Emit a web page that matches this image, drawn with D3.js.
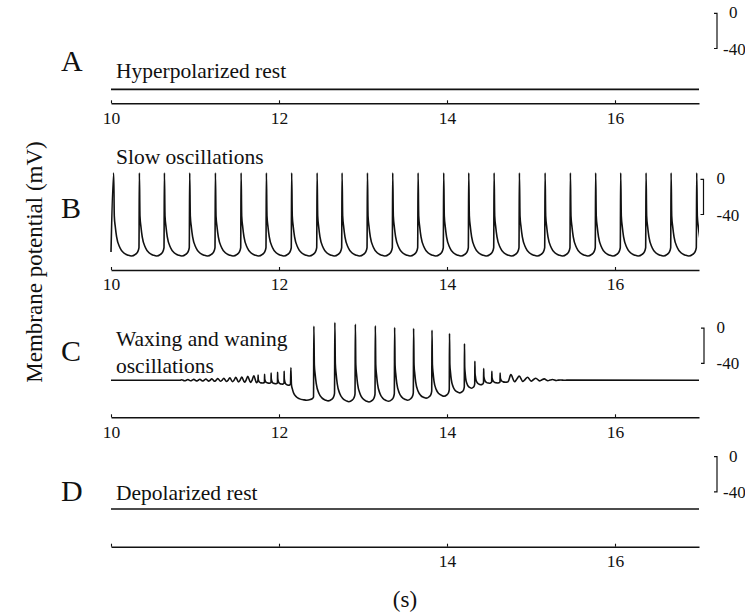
<!DOCTYPE html>
<html>
<head>
<meta charset="utf-8">
<script src="https://cdn.jsdelivr.net/npm/d3@7"></script>
<style>
  body { margin: 0; background: #fff; }
  text { font-family: "Liberation Serif", "Times New Roman", serif; fill: #111; }
</style>
</head>
<body>
<div id="chartDiv"></div>
<script>

// ---- data (time in s, potential in mV) ----
var timeRange = [10, 17];
var tickValues = [10, 12, 14, 16];
var tickLabels = ["10", "12", "14", "16"];
var tickLabelsD = ["", "", "14", "16"];
var scaleBarMv = [0, -40];

var panelNames = ["A", "B", "C", "D"];
var panelTexts = [["Hyperpolarized rest"], ["Slow oscillations"], ["Waxing and waning", "oscillations"], ["Depolarized rest"]];

var restA = -86.4;
var restD = -59.4;

// B: onset of each slow oscillation cycle
var spikeTimesB = [10.027, 10.333, 10.631, 10.932, 11.238, 11.544, 11.845, 12.146, 12.449, 12.746,
                   13.048, 13.349, 13.651, 13.956, 14.254, 14.556, 14.857, 15.163, 15.464, 15.765,
                   16.063, 16.365, 16.663, 16.968];
var peakB = 7.2, troughB = -87.2, startB = -82.5;

// C: waxing and waning cycles
var cycleTimesC = [10.821, 10.893, 10.964, 11.036, 11.107, 11.179, 11.250, 11.321, 11.393, 11.464,
                   11.536, 11.607, 11.679, 11.750, 11.827, 11.905, 11.982, 12.060, 12.137, 12.411,
                   12.661, 12.905, 13.143, 13.373, 13.599, 13.818, 14.027, 14.206, 14.330, 14.435,
                   14.532, 14.631, 14.730, 14.830, 14.929, 15.027, 15.127, 15.226, 15.325];
var cyclePeaksC = [-58.5, -58.3, -58.2, -58.0, -57.7, -57.5, -57.2, -56.8, -56.4, -55.9,
                   -55.5, -54.8, -54.0, -53.2, -52.3, -51.1, -50.0, -48.9, -44.9, 2.3,
                   6.3, 4.5, 2.6, 0.8, -0.3, -2.3, -6.0, -17.6, -37.5, -45.8,
                   -48.9, -51.1, -52.8, -54.5, -55.7, -56.8, -57.6, -58.3, -58.8];
var cycleTroughsC = [-59.7, -59.8, -59.9, -60.0, -60.1, -60.2, -60.3, -60.6, -60.8, -61.0,
                     -61.4, -61.6, -61.9, -62.3, -62.5, -63.1, -63.6, -64.8, -81.8, -82.6,
                     -83.5, -83.8, -83.0, -81.8, -79.5, -77.3, -73.5, -68.2, -64.2, -62.5,
                     -62.2, -61.4, -60.8, -60.5, -60.1, -59.9, -59.7, -59.4, -59.2];
var restC = -59.1;

var spikeShape = [[0.016, 1], [0.04, 0.48], [0.08, 0.35], [0.13, 0.23], [0.26, 0.10], [0.40, 0.04],
                  [0.58, 0.01], [0.70, 0], [0.86, 0.02], [0.95, 0.05], [1, 0.10]];
// small subthreshold wiggle
var waveShape = [[0.3, 1], [0.75, 0], [1, 0.35]];
var smallWaveMv = 9;

// ---- layout ----
var W = 745, H = 616;
var mvPx = 0.88;
var panels = [
  {zeroY: 13.3,  axisY: 103.3, letterY: 71,  textY: [78],         barX: 717,   zeroX: 729,   negX: 723,   labels: tickLabels},
  {zeroY: 179.3, axisY: 270,   letterY: 218, textY: [163.5],      barX: 703.5, zeroX: 716.5, negX: 716.5, labels: tickLabels},
  {zeroY: 328.2, axisY: 417.3, letterY: 361, textY: [346, 372.5], barX: 704,   zeroX: 716.5, negX: 716.5, labels: tickLabels},
  {zeroY: 456.7, axisY: 546.7, letterY: 501, textY: [500],        barX: 717,   zeroX: 729,   negX: 723,   labels: tickLabelsD}
];

var svg = d3.select("#chartDiv").append("svg")
    .attr("width", W)
    .attr("height", H);

var x_scale = d3.scaleLinear().domain(timeRange).range([111, 699]);

svg.append("clipPath").attr("id", "traceClip")
  .append("rect")
    .attr("x", x_scale(timeRange[0]) - 1).attr("y", 0)
    .attr("width", x_scale(timeRange[1]) - x_scale(timeRange[0]) + 1)
    .attr("height", H);

// lay a cycle shape over each onset time
function buildCycles(times, peaks, troughs, lastPeriod) {
  var pts = [];
  times.forEach(function(t0, i) {
    var t1 = i < times.length - 1 ? times[i + 1] : t0 + lastPeriod;
    var amp = peaks[i] - troughs[i];
    var shape = amp < smallWaveMv ? waveShape : spikeShape;
    shape.forEach(function(s) {
      pts.push([t0 + s[0] * (t1 - t0), troughs[i] + s[1] * amp]);
    });
  });
  return pts;
}

var traceA = [[timeRange[0], restA], [timeRange[1], restA]];

var traceB = [[timeRange[0], startB]].concat(
  buildCycles(spikeTimesB, spikeTimesB.map(function() { return peakB; }),
              spikeTimesB.map(function() { return troughB; }), 0.302));

var traceC = [[timeRange[0], restC], [cycleTimesC[0], restC]].concat(
  buildCycles(cycleTimesC, cyclePeaksC, cycleTroughsC, 0.099),
  [[timeRange[1], restC]]);

var traceD = [[timeRange[0], restD], [timeRange[1], restD]];

var traces = [traceA, traceB, traceC, traceD];

panels.forEach(function(p, i) {
  var y_scale = d3.scaleLinear().domain([0, -40]).range([p.zeroY, p.zeroY + 40 * mvPx]);
  var g = svg.append("g").attr("class", "panel");

  // panel letter
  g.append("text")
    .attr("x", 61).attr("y", p.letterY)
    .style("font-size", "30px")
    .text(panelNames[i]);

  // condition label
  panelTexts[i].forEach(function(s, k) {
    g.append("text")
      .attr("x", 116).attr("y", p.textY[k])
      .style("font-size", "21.5px")
      .text(s);
  });

  // trace
  var line = d3.line()
    .x(function(d) { return x_scale(d[0]); })
    .y(function(d) { return y_scale(d[1]); })
    .curve(d3.curveMonotoneX);

  g.append("path")
    .datum(traces[i])
    .attr("clip-path", "url(#traceClip)")
    .attr("d", line)
    .attr("fill", "none")
    .attr("stroke", "#111")
    .attr("stroke-width", 1.6)
    .attr("stroke-linejoin", "round");

  // time axis, ticks pointing up
  var xAxis = d3.axisBottom(x_scale)
    .tickValues(tickValues)
    .tickSizeInner(-3)
    .tickSizeOuter(0)
    .tickPadding(8)
    .tickFormat(function(d, k) { return p.labels[k]; });

  var ax = g.append("g")
    .attr("transform", "translate(0," + p.axisY + ")")
    .call(xAxis);
  ax.select(".domain").attr("stroke", "#111").attr("stroke-width", 1.4);
  ax.selectAll(".tick line").attr("stroke", "#111").attr("stroke-width", 1.1);
  ax.selectAll(".tick text")
    .attr("fill", "#111")
    .style("font-family", "'Liberation Serif', serif")
    .style("font-size", "17.5px");

  // 40 mV scale bar
  var y0 = y_scale(scaleBarMv[0]), y1 = y_scale(scaleBarMv[1]);
  g.append("path")
    .attr("d", "M" + (p.barX - 3) + "," + y0 + "H" + p.barX + "V" + y1 + "H" + (p.barX - 3))
    .attr("fill", "none")
    .attr("stroke", "#111")
    .attr("stroke-width", 1.2);
  g.append("text")
    .attr("x", p.zeroX).attr("y", y0 + 5)
    .style("font-size", "17px")
    .text(String(scaleBarMv[0]));
  g.append("text")
    .attr("x", p.negX).attr("y", y1 + 6)
    .style("font-size", "17px")
    .text(String(scaleBarMv[1]));
});

// y title
svg.append("text")
  .attr("transform", "translate(42,262) rotate(-90)")
  .attr("text-anchor", "middle")
  .style("font-size", "23px")
  .text("Membrane potential (mV)");

// x unit
svg.append("text")
  .attr("x", 405).attr("y", 607)
  .attr("text-anchor", "middle")
  .style("font-size", "23px")
  .text("(s)");

</script>
</body>
</html>
